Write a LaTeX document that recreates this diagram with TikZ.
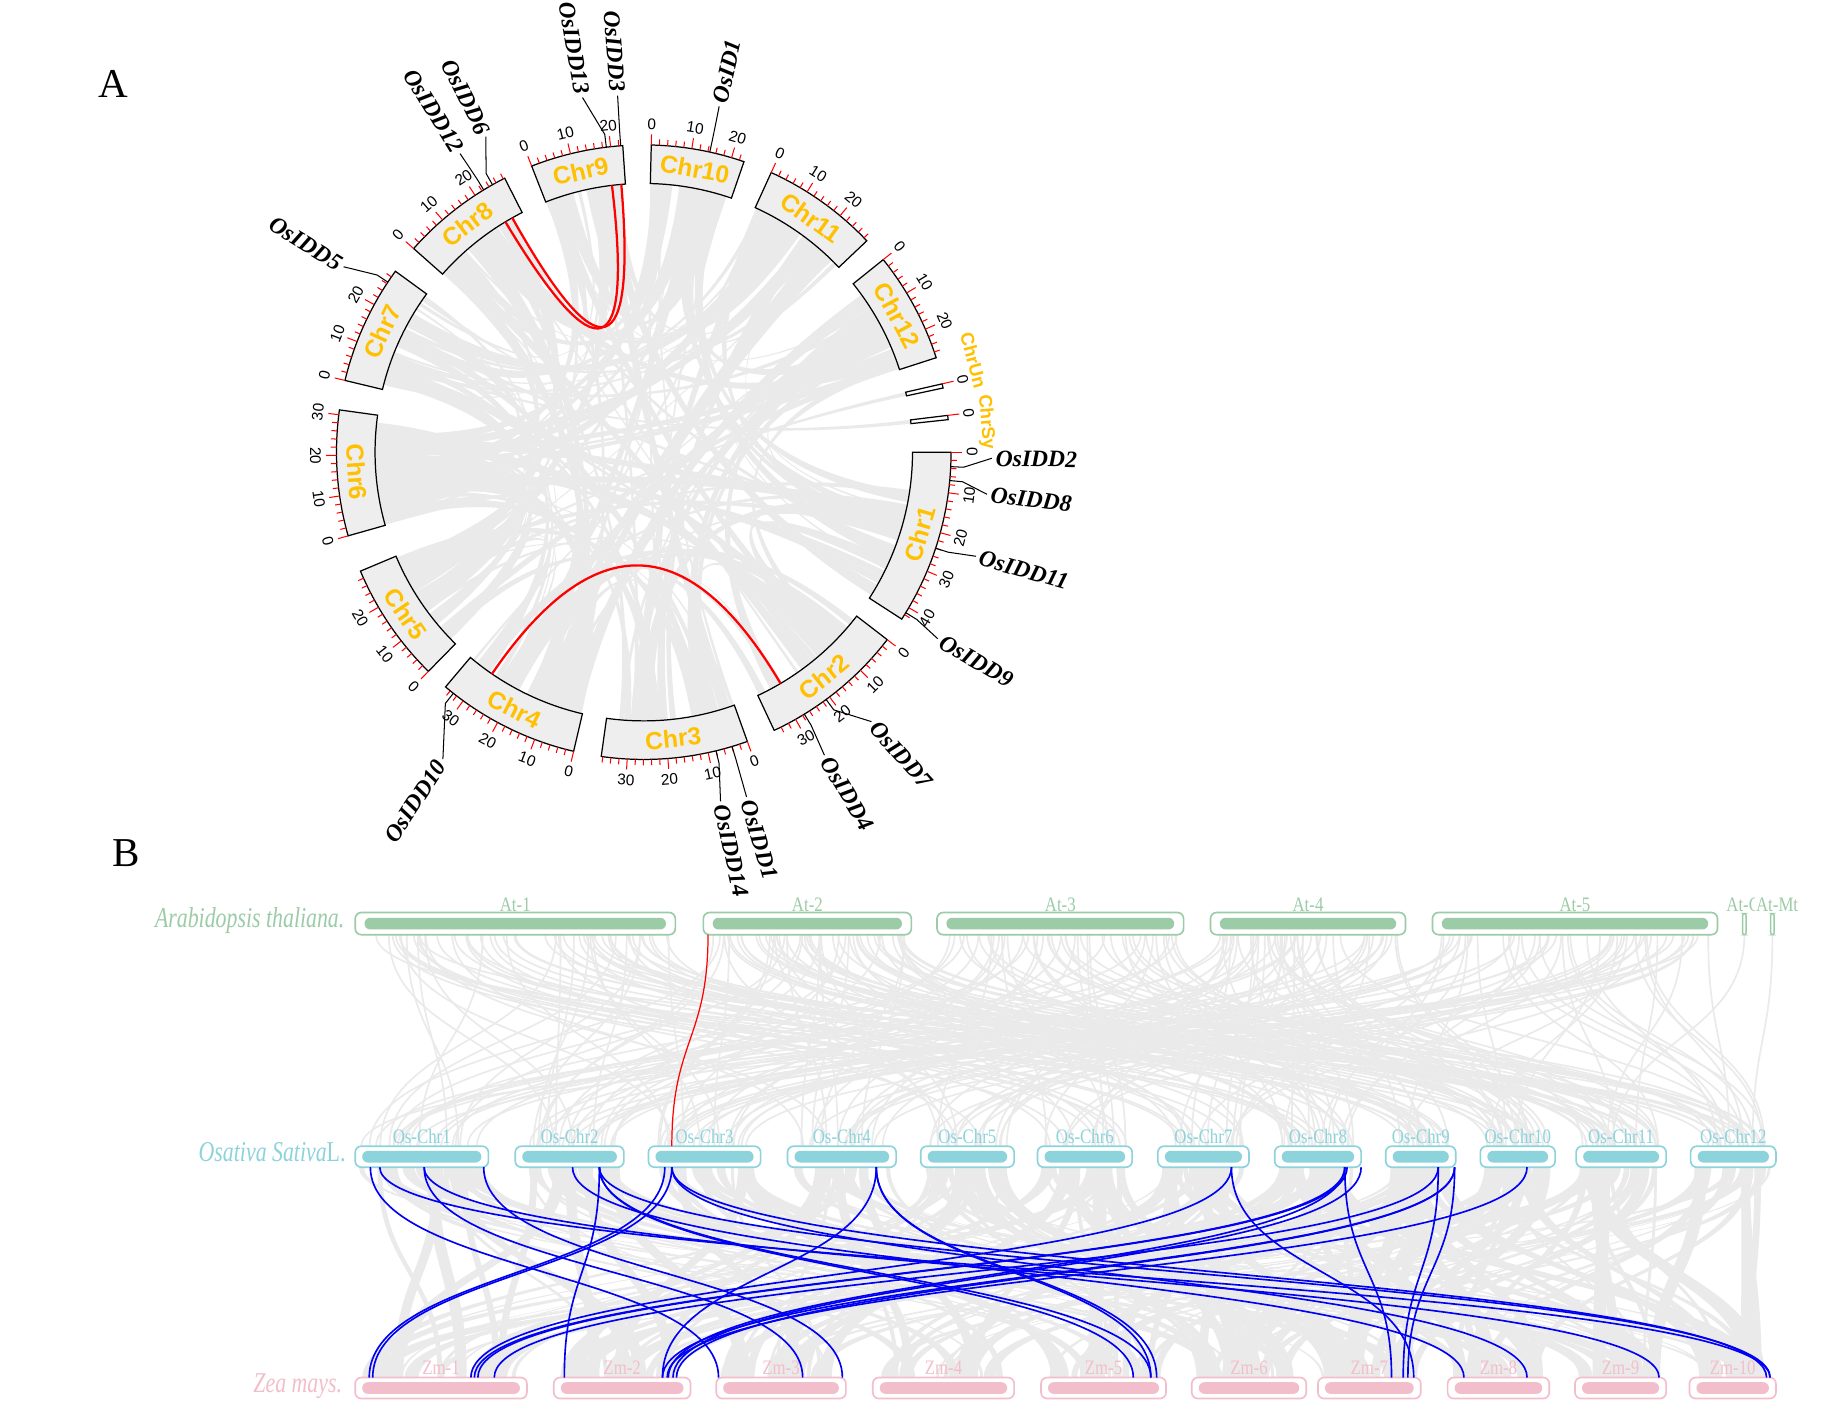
\documentclass[tikz,border=0pt]{standalone}
\usepackage{fontspec}
\setmainfont{Liberation Serif}
\setsansfont{Liberation Sans}

\definecolor{linkgray}{RGB}{234,234,234}
\definecolor{chrfill}{RGB}{238,238,238}
\definecolor{chrgold}{RGB}{255,192,0}
\definecolor{atgreen}{RGB}{156,203,167}
\definecolor{osteal}{RGB}{140,211,220}
\definecolor{zmpink}{RGB}{243,190,203}
\definecolor{synblue}{RGB}{0,0,245}

% chromosome arrays (circle: start angle, span in degrees; panel B: bar ends)
\def\chrS{{0,-37.6,-70.3,-103.2,-134.5,-164.2,-193.5,-221.5,-248.6,-271.4,-294.5,-321.2}}
\def\chrD{{32.9,27.3,27.7,27.0,22.7,23.7,22.6,21.6,17.5,17.6,22.0,20.9}}
\def\atL{{304,602,802,1036,1226}}
\def\atR{{578,780,1013,1203,1470}}
\def\osL{{304,441,555,674,788,888,991,1091,1186,1267,1349,1447}}
\def\osR{{418,534,651,767,868,969,1069,1165,1246,1331,1426,1520}}
\def\zmL{{304,474,613,747,891,1020,1128,1239,1348,1446}}
\def\zmR{{451,591,724,868,998,1118,1216,1326,1426,1520}}

\tikzset{
  chrbox/.style={fill=chrfill, draw=black, line width=0.6pt},
  chrlabel/.style={font=\sffamily\bfseries\fontsize{12}{12}\selectfont, text=chrgold, inner sep=0pt},
  smallchr/.style={font=\sffamily\bfseries\fontsize{9}{9}\selectfont, text=chrgold, inner sep=0pt},
  ticklabel/.style={font=\sffamily\fontsize{7.5}{7.5}\selectfont, inner sep=0pt},
  tickred/.style={red, line width=0.5pt},
  genelabel/.style={font=\bfseries\itshape\fontsize{11.5}{11.5}\selectfont, inner sep=0.5pt},
  geneline/.style={black, line width=0.5pt},
  redlink/.style={red, line width=1.1pt},
  graylink/.style={linkgray, line width=0.8pt},
  bluelink/.style={synblue, line width=0.8pt},
  barlabel/.style={font=\fontsize{10}{10}\selectfont, xscale=0.82, inner sep=0pt},
  spname/.style={font=\fontsize{14}{14}\selectfont, xscale=0.76, inner sep=0pt, anchor=east},
  panel/.style={font=\fontsize{20}{20}\selectfont, inner sep=0pt}
}

\begin{document}
\begin{tikzpicture}[x=0.02cm, y=-0.02cm]
\useasboundingbox (0,0) rectangle (1568,1221);
\fill[white] (0,0) rectangle (1568,1221);
\pgfmathsetseed{11}

\node[panel] (lblA) at (97,72) {A};
\node[panel] (lblB) at (108,730) {B};

% ---------------- panel A : circos ----------------
\begin{scope}[shift={(551,387)}, y={(0,0.02cm)}]

% gray links
\foreach \i in {1,...,150}{
  \pgfmathtruncatemacro\ka{random(0,11)}
  \pgfmathtruncatemacro\kb{mod(\ka+random(1,11),12)}
  \pgfmathsetmacro\w{0.4+2.8*rnd}
  \pgfmathsetmacro\pa{\chrS[\ka]-rnd*(\chrD[\ka]-\w)}
  \pgfmathsetmacro\pb{\chrS[\kb]-rnd*(\chrD[\kb]-\w)}
  \pgfmathsetmacro\qa{\pa-\w}
  \pgfmathsetmacro\qb{\pb-\w}
  \fill[linkgray] (\pa:230) .. controls (\pa:77) and (\qb:77) .. (\qb:230)
    arc[start angle=\qb, end angle=\pb, radius=230]
    .. controls (\pb:77) and (\qa:77) .. (\qa:230) -- cycle;
}
\fill[linkgray] (12.9:230) .. controls (12.9:77) and (-150:77) .. (-150:230)
  arc[start angle=-150, end angle=-149.2, radius=230]
  .. controls (-149.2:77) and (12.1:77) .. (12.1:230) -- cycle;
\fill[linkgray] (6.9:230) .. controls (6.9:77) and (160:77) .. (160:230)
  arc[start angle=160, end angle=160.8, radius=230]
  .. controls (160.8:77) and (6.1:77) .. (6.1:230) -- cycle;

% chromosomes with ticks
\foreach \nm/\chs/\chl in {Chr1/0/43.3, Chr2/-37.6/35.9, Chr3/-70.3/36.4,
    Chr4/-103.2/35.5, Chr5/-134.5/29.9, Chr6/-164.2/31.2, Chr7/-193.5/29.7,
    Chr8/-221.5/28.4, Chr9/-248.6/23.0, Chr10/-271.4/23.2, Chr11/-294.5/29.0,
    Chr12/-321.2/27.5}{
  \pgfmathsetmacro\che{\chs-0.76*\chl}
  \draw[chrbox] (\chs:230) arc[start angle=\chs, end angle=\che, radius=230]
    -- (\che:263) arc[start angle=\che, end angle=\chs, radius=263] -- cycle;
  \pgfmathtruncatemacro\nt{\chl/2}
  \foreach \j in {0,...,\nt}{
    \pgfmathsetmacro\ta{\chs-1.52*\j}
    \pgfmathtruncatemacro\maj{mod(\j,5)==0}
    \ifnum\maj=1
      \draw[tickred] (\ta:263) -- (\ta:272);
      \pgfmathtruncatemacro\tn{2*\j}
      \pgfmathsetmacro\tr{mod(\ta+720,360)}
      \pgfmathsetmacro\trot{ifthenelse(\tr>180,\tr+90,\tr-90)}
      \node[ticklabel, rotate=\trot] at (\ta:281) {\tn};
    \else
      \draw[tickred] (\ta:263) -- (\ta:268);
    \fi
  }
  \pgfmathsetmacro\m{mod(\chs-0.38*\chl+720,360)}
  \pgfmathsetmacro\rot{ifthenelse(\m>180,\m+90,\m-90)}
  \node[chrlabel, rotate=\rot] (\nm) at (\m:246.5) {\nm};
}

% ChrUn and ChrSy
\draw[chrbox, fill=white] (12.9:230) arc[start angle=12.9, end angle=12.1, radius=230]
  -- (12.1:262) arc[start angle=12.1, end angle=12.9, radius=262] -- cycle;
\draw[chrbox, fill=white] (6.9:230) arc[start angle=6.9, end angle=6.1, radius=230]
  -- (6.1:262) arc[start angle=6.1, end angle=6.9, radius=262] -- cycle;
\draw[tickred] (12.9:262) -- (12.9:272);
\draw[tickred] (6.9:262) -- (6.9:272);
\node[ticklabel, rotate=-77] at (12.9:280) {0};
\node[ticklabel, rotate=-83] at (6.9:280) {0};
\node[smallchr, rotate=-75] (ChrUn) at (15.6:293) {ChrUn};
\node[smallchr, rotate=-85] (ChrSy) at (5.0:294) {ChrSy};

% gene labels
\foreach \g/\ga/\la/\lr/\rot/\anc in {
    OsIDD2/-2.7/-1/300/-1/west, OsIDD8/-5.3/-7/298/-7/west,
    OsIDD11/-18.2/-17.4/300/-16/west, OsIDD9/-31.5/-32.4/300/-30/west,
    OsIDD7/-53.6/-49.8/304/-48/west, OsIDD4/-58.5/-59.2/304/-59/west,
    OsIDD1/-73.3/-73.4/310/-73.4/west, OsIDD14/-76.4/-77.6/308/-77.6/west,
    OsIDD10/-128.3/-123.2/316/56.8/east, OsIDD5/146.4/148.3/304/-31.7/east,
    OsIDD12/121.4/121.6/302/-58.4/east, OsIDD6/119.5/116.6/304/-63.4/east,
    OsIDD13/97/99.8/310/-80.2/east, OsIDD3/94.3/94.2/308/-85.8/east,
    OsID1/77.6/77.7/305/77.7/west}{
  \pgfmathsetmacro\lc{\lr-2}
  \draw[geneline] (\ga:263) -- (\ga:274) -- (\la:\lc);
  \node[genelabel, rotate=\rot, anchor=\anc] (\g) at (\la:\lr) {\g};
}

% red links
\draw[redlink] (121:230) .. controls (121:76.7) and (96.8:76.7) .. (96.8:230);
\draw[redlink] (119.3:230) .. controls (119.3:76.7) and (94.8:76.7) .. (94.8:230);
\draw[redlink] (-124.4:230) .. controls (-124.4:76.7) and (-59.4:76.7) .. (-59.4:230);
\end{scope}

% ---------------- panel B : synteny ----------------
% Arabidopsis -> rice
\foreach \i in {1,...,280}{
  \pgfmathtruncatemacro\ka{random(0,4)}
  \pgfmathtruncatemacro\kb{random(0,11)}
  \pgfmathsetmacro\xa{\atL[\ka]+5+rnd*(\atR[\ka]-\atL[\ka]-10)}
  \pgfmathsetmacro\xb{\osL[\kb]+5+rnd*(\osR[\kb]-\osL[\kb]-10)}
  \draw[graylink] (\xa,800) .. controls (\xa,890) and (\xb,890) .. (\xb,981);
}
\draw[graylink] (1493,800) .. controls (1493,890) and (1380,890) .. (1380,981);
\draw[graylink] (1517,800) .. controls (1517,890) and (1500,890) .. (1500,981);

% rice -> maize
\foreach \i in {1,...,260}{
  \pgfmathtruncatemacro\ka{random(0,11)}
  \pgfmathtruncatemacro\kb{random(0,9)}
  \pgfmathsetmacro\w{2+rnd*10}
  \pgfmathsetmacro\xa{\osL[\ka]+3+rnd*(\osR[\ka]-\osL[\ka]-6-\w)}
  \pgfmathsetmacro\xb{\zmL[\kb]+3+rnd*(\zmR[\kb]-\zmL[\kb]-6-\w)}
  \pgfmathsetmacro\xc{\xa+\w}
  \pgfmathsetmacro\xd{\xb+\w}
  \fill[linkgray] (\xa,999) .. controls (\xa,1089) and (\xb,1089) .. (\xb,1179)
    -- (\xd,1179) .. controls (\xd,1089) and (\xc,1089) .. (\xc,999) -- cycle;
}

% bars
\foreach \nm/\bl/\br in {At-1/304/578, At-2/602/780, At-3/802/1013, At-4/1036/1203, At-5/1226/1470}{
  \draw[atgreen, line width=0.8pt, fill=white, rounded corners=3pt] (\bl,781) rectangle (\br,800);
  \fill[atgreen, rounded corners=2.8pt] (\bl+8,785.5) rectangle (\br-8,795.5);
  \node[barlabel, text=atgreen] (\nm) at ({(\bl+\br)/2},774) {\nm};
}
\draw[atgreen, line width=0.7pt, rounded corners=1pt] (1491.5,782) rectangle (1494.5,800);
\draw[atgreen, line width=0.7pt, rounded corners=1pt] (1515.5,782) rectangle (1518.5,800);
\node[barlabel, text=atgreen] (At-C) at (1492,774) {At-C};
\node[barlabel, text=atgreen, fill=white, inner sep=0.4pt] (At-Mt) at (1521,774) {At-Mt};

\foreach \nm/\bl/\br in {Os-Chr1/304/418, Os-Chr2/441/534, Os-Chr3/555/651,
    Os-Chr4/674/767, Os-Chr5/788/868, Os-Chr6/888/969, Os-Chr7/991/1069,
    Os-Chr8/1091/1165, Os-Chr9/1186/1246, Os-Chr10/1267/1331,
    Os-Chr11/1349/1426, Os-Chr12/1447/1520}{
  \draw[osteal, line width=0.8pt, fill=white, rounded corners=3pt] (\bl,981) rectangle (\br,999);
  \fill[osteal, rounded corners=2.8pt] (\bl+6,985) rectangle (\br-6,995);
  \node[barlabel, text=osteal] (\nm) at ({(\bl+\br)/2},973) {\nm};
}

\foreach \nm/\bl/\br in {Zm-1/304/451, Zm-2/474/591, Zm-3/613/724, Zm-4/747/868,
    Zm-5/891/998, Zm-6/1020/1118, Zm-7/1128/1216, Zm-8/1239/1326,
    Zm-9/1348/1426, Zm-10/1446/1520}{
  \draw[zmpink, line width=0.8pt, fill=white, rounded corners=3pt] (\bl,1179) rectangle (\br,1197);
  \fill[zmpink, rounded corners=2.8pt] (\bl+6,1183) rectangle (\br-6,1193);
  \node[barlabel, text=zmpink] (\nm) at ({(\bl+\br)/2},1171) {\nm};
}

% blue links rice -> maize
\foreach \a/\b in {317/615, 325/1515, 363/1420, 363/687, 414/721, 490/1253,
    513/483, 513/1515, 513/970, 513/985, 569/316, 575/319, 575/1307, 575/1512,
    750/567, 750/985, 750/990, 1054/403, 1054/1210, 1151/406, 1151/572,
    1153/409, 1151/1191, 1165/576, 1231/423, 1231/1201, 1245/579, 1245/1205,
    1245/567, 1307/571}{
  \draw[bluelink] (\a,999) .. controls (\a,1089) and (\b,1089) .. (\b,1179);
}

% red link Arabidopsis -> rice
\draw[red, line width=0.6pt] (606,800) .. controls (606,890) and (575,890) .. (575,981);

% species names
\node[spname, text=atgreen] (sp-at) at (295,788) {\textit{Arabidopsis thaliana.}};
\node[spname, text=osteal] (sp-os) at (296,986) {\textit{Osativa Sativa}L.};
\node[spname, text=zmpink] (sp-zm) at (293,1186) {\textit{Zea mays.}};
\end{tikzpicture}
\end{document}
